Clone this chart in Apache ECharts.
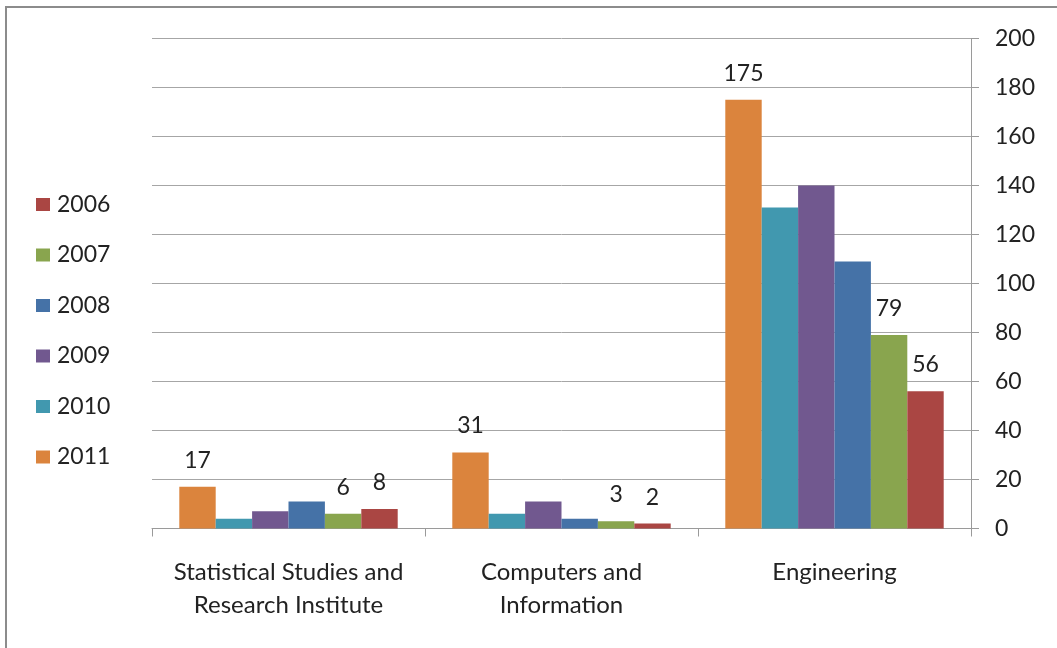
<!DOCTYPE html>
<html>
<head>
<meta charset="utf-8">
<script src="https://cdn.jsdelivr.net/npm/echarts@6/dist/echarts.min.js"></script>
<style>
html,body{margin:0;padding:0;background:#fff;}
#chart{width:1057px;height:648px;}
</style>
</head>
<body>
<div id="chart"></div>
<script>
const categories = ["Statistical Studies and\nResearch Institute", "Computers and\nInformation", "Engineering"];
const years = ["2011", "2010", "2009", "2008", "2007", "2006"];
const legendOrder = ["2006", "2007", "2008", "2009", "2010", "2011"];
const values2011 = [17, 31, 175];
const values2010 = [4, 6, 131];
const values2009 = [7, 11, 140];
const values2008 = [11, 4, 109];
const values2007 = [6, 3, 79];
const values2006 = [8, 2, 56];
const yTicks = [0, 20, 40, 60, 80, 100, 120, 140, 160, 180, 200];

const seriesValues = {
  "2011": values2011, "2010": values2010, "2009": values2009,
  "2008": values2008, "2007": values2007, "2006": values2006
};
const colors = {
  "2011": "#DB843D", "2010": "#4198AF", "2009": "#71588F",
  "2008": "#4572A7", "2007": "#89A54E", "2006": "#AA4643"
};
const labeled = {"2011": true, "2007": true, "2006": true};
const FONT = "Lato";
const FS = 23;

const chart = echarts.init(document.getElementById('chart'), null, {renderer: 'canvas'});
const option = {
  animation: false,
  backgroundColor: '#fff',
  textStyle: {fontFamily: FONT},
  grid: {left: 152, right: 86, top: 38.5, bottom: 119.5, containLabel: false},
  legend: {
    orient: 'vertical',
    left: 36,
    top: 193,
    padding: 0,
    data: legendOrder,
    itemWidth: 14,
    itemHeight: 13,
    itemGap: 27.5,
    icon: 'rect',
    textStyle: {fontFamily: FONT, fontSize: FS, color: '#222', lineHeight: 23, padding: [0, 0, 0, 2]}
  },
  xAxis: {
    type: 'category',
    data: categories,
    axisLine: {lineStyle: {color: '#9a9a9a', width: 1}},
    axisTick: {show: true, length: 8, lineStyle: {color: '#9a9a9a'}},
    axisLabel: {fontFamily: FONT, fontSize: 24, color: '#222', lineHeight: 33, margin: 27, interval: 0}
  },
  yAxis: {
    type: 'value',
    position: 'right',
    min: yTicks[0],
    max: yTicks[yTicks.length - 1],
    interval: yTicks[1] - yTicks[0],
    axisLine: {show: true, lineStyle: {color: '#9a9a9a'}},
    axisTick: {show: true, length: 8, lineStyle: {color: '#9a9a9a'}},
    splitLine: {show: true, lineStyle: {color: '#a6a6a6', width: 1}},
    axisLabel: {fontFamily: FONT, fontSize: FS, color: '#222', margin: 24, align: 'left'}
  },
  series: years.map(y => ({
    name: y,
    type: 'bar',
    data: seriesValues[y],
    barGap: '0%',
    barCategoryGap: '20%',
    itemStyle: {color: colors[y]},
    label: {
      show: !!labeled[y],
      position: 'top',
      distance: 15,
      fontFamily: FONT,
      fontSize: FS,
      color: '#222'
    }
  })),
  graphic: [{
    type: 'polyline',
    shape: {points: [[6, 648], [6, 7], [1057, 7]]},
    style: {stroke: '#8c8c8c', lineWidth: 2, fill: null},
    silent: true
  }]
};
chart.setOption(option);
</script>
</body>
</html>
